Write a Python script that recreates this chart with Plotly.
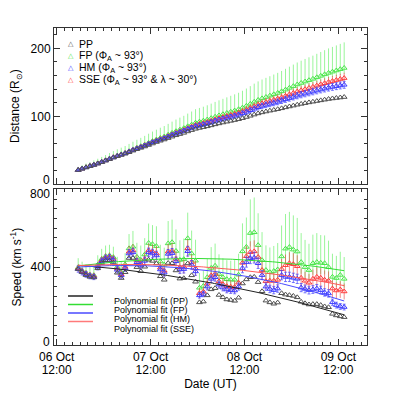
import numpy as np
import pandas as pd
import plotly.graph_objects as go
from plotly.subplots import make_subplots

# ──────────────────────────────────────────────────────────────
# Data
# ──────────────────────────────────────────────────────────────
T_START = "2010-10-06 17:30"     # first J-map point, hourly cadence
N_POINTS = 69
times = pd.date_range(T_START, periods=N_POINTS, freq="h")

X_RANGE = ["2010-10-06 11:19", "2010-10-09 19:20"]
X_TICK0 = "2010-10-06 12:00"

# distance (R_sun)
pp_dist = [21.0, 22.9, 24.8, 26.7, 28.5, 30.5, 32.6, 34.8, 37.0, 39.2,
           41.3, 43.2, 45.0, 47.2, 49.5, 51.6, 53.6, 55.6, 57.8, 60.0,
           62.2, 64.1, 65.9, 68.0, 70.1, 72.1, 73.9, 75.7, 77.8, 79.7,
           81.6, 82.9, 84.1, 85.3, 86.7, 88.2, 89.6, 90.9, 92.1, 93.3,
           94.5, 95.8, 97.3, 99.0, 100.8, 102.6, 104.3, 105.8, 107.1, 108.3,
           109.4, 110.5, 111.8, 113.2, 114.5, 115.8, 117.1, 118.3, 119.4, 120.5,
           121.5, 122.5, 123.5, 124.5, 125.5, 126.3, 127.0, 127.7, 128.4]
fp_dist = [21.0, 23.0, 25.0, 26.9, 28.8, 30.8, 33.0, 35.3, 37.7, 40.0,
           42.2, 44.2, 46.2, 48.7, 51.3, 53.7, 56.0, 58.4, 61.0, 63.6,
           65.9, 68.2, 70.3, 72.9, 75.6, 78.1, 80.4, 82.6, 85.3, 87.8,
           90.6, 92.1, 93.6, 95.3, 97.3, 99.4, 101.3, 103.1, 104.9, 106.7,
           108.5, 110.4, 112.8, 115.5, 118.4, 121.4, 124.1, 126.4, 128.4, 130.4,
           132.4, 134.4, 136.7, 139.3, 141.9, 144.4, 146.9, 149.1, 151.2, 153.2,
           155.2, 157.4, 159.6, 161.8, 163.9, 165.7, 167.5, 169.4, 171.2]
hm_dist = [21.0, 23.0, 24.9, 26.8, 28.6, 30.6, 32.8, 35.1, 37.4, 39.6,
           41.7, 43.6, 45.6, 48.0, 50.5, 52.7, 54.8, 57.0, 59.5, 61.9,
           63.9, 65.9, 67.8, 70.2, 72.7, 74.9, 76.9, 78.9, 81.4, 83.5,
           85.5, 86.8, 88.2, 89.7, 91.5, 93.3, 94.9, 96.4, 97.9, 99.3,
           100.8, 102.3, 104.4, 106.6, 108.9, 111.2, 113.4, 115.3, 116.8, 118.3,
           119.8, 121.3, 123.2, 125.0, 126.8, 128.6, 130.4, 131.9, 133.4, 134.9,
           136.4, 137.9, 139.4, 140.8, 142.2, 143.3, 144.4, 145.4, 146.4]
sse_dist = [21.0, 23.0, 25.0, 26.9, 28.7, 30.7, 32.9, 35.2, 37.5, 39.8,
            41.9, 43.9, 45.9, 48.3, 50.8, 53.1, 55.3, 57.5, 60.0, 62.4,
            64.6, 66.6, 68.6, 71.0, 73.5, 75.8, 77.9, 80.0, 82.5, 84.8,
            87.3, 88.6, 90.0, 91.6, 93.4, 95.3, 97.0, 98.6, 100.2, 101.9,
            103.5, 105.2, 107.4, 109.8, 112.3, 114.8, 117.2, 119.2, 121.0, 122.7,
            124.3, 126.0, 128.0, 130.1, 132.3, 134.4, 136.5, 138.3, 140.0, 141.7,
            143.4, 145.2, 147.0, 148.7, 150.4, 151.9, 153.4, 154.9, 156.3]

# distance uncertainties (% of distance)
FP_DIST_ERR_UP, FP_DIST_ERR_DN = 22, 5
SSE_DIST_ERR = 5
HM_DIST_ERR = 3.5

# speed (km/s)
pp_speed = [390, 375, 359, 350, 347, 394, 421, 435, 434, 423,
            371, 344, 374, 447, 447, 400, 379, 402, 438, 432,
            419, 353, 335, 421, 420, 383, 341, 343, 419, 358,
            325, 219, 223, 255, 286, 292, 257, 245, 234, 231,
            227, 243, 316, 337, 348, 350, 323, 276, 228, 219,
            212, 218, 266, 259, 256, 252, 245, 222, 214, 208,
            210, 210, 205, 198, 194, 160, 152, 147, 143]
fp_speed = [398, 382, 370, 361, 358, 412, 441, 456, 460, 451,
            401, 374, 414, 496, 505, 453, 437, 465, 524, 518,
            508, 429, 413, 522, 528, 483, 437, 441, 548, 470,
            433, 294, 303, 348, 396, 407, 364, 348, 338, 336,
            335, 361, 481, 504, 575, 579, 513, 436, 385, 374,
            380, 388, 455, 495, 503, 490, 480, 426, 400, 385,
            420, 426, 422, 420, 400, 350, 344, 360, 340]
hm_speed = [390, 375, 363, 354, 350, 402, 430, 444, 447, 436,
            386, 358, 394, 470, 476, 425, 408, 432, 476, 470,
            460, 388, 372, 468, 472, 430, 388, 390, 482, 412,
            378, 255, 262, 300, 340, 348, 310, 295, 285, 282,
            280, 300, 395, 426, 446, 449, 420, 359, 300, 288,
            282, 290, 359, 350, 350, 345, 340, 295, 288, 282,
            285, 290, 282, 270, 265, 220, 205, 198, 195]
sse_speed = [394, 379, 367, 358, 354, 406, 435, 449, 453, 442,
             392, 364, 401, 479, 486, 434, 417, 441, 486, 480,
             470, 397, 381, 480, 484, 442, 399, 402, 497, 426,
             393, 266, 274, 315, 357, 366, 327, 312, 302, 299,
             298, 320, 422, 456, 477, 481, 452, 385, 328, 330,
             330, 335, 390, 410, 420, 415, 405, 345, 330, 320,
             340, 350, 345, 335, 330, 290, 280, 285, 275]

# speed uncertainties (km/s)
fp_speed_err_up = [48, 46, 44, 43, 43, 49, 53, 55, 55, 54,
                   52, 52, 58, 74, 81, 72, 74, 84, 100, 98,
                   102, 86, 87, 115, 116, 111, 101, 106, 132, 118,
                   108, 76, 79, 94, 107, 114, 102, 97, 98, 97,
                   101, 108, 144, 151, 173, 179, 164, 144, 127, 127,
                   129, 136, 159, 178, 181, 176, 173, 149, 140, 135,
                   147, 149, 143, 143, 136, 119, 114, 119, 112]
fp_speed_err_dn = [19, 18, 18, 17, 17, 20, 21, 22, 22, 22,
                   21, 21, 23, 30, 32, 29, 30, 34, 40, 39,
                   41, 34, 35, 46, 46, 44, 40, 42, 53, 47,
                   43, 30, 32, 38, 43, 46, 41, 39, 39, 39,
                   40, 43, 58, 60, 69, 72, 66, 58, 51, 51,
                   52, 54, 64, 71, 72, 70, 69, 60, 56, 54,
                   59, 60, 57, 57, 54, 48, 46, 48, 45]
sse_speed_err = [20, 19, 18, 18, 18, 20, 22, 22, 23, 22,
                 24, 22, 24, 31, 32, 29, 29, 32, 36, 36,
                 38, 32, 31, 40, 41, 38, 35, 36, 46, 40,
                 39, 27, 27, 32, 37, 38, 35, 34, 33, 33,
                 33, 36, 48, 53, 56, 57, 55, 48, 42, 43,
                 43, 44, 52, 55, 57, 57, 56, 48, 46, 45,
                 48, 49, 49, 48, 48, 43, 42, 43, 41]
hm_speed_err = [16, 15, 15, 14, 14, 16, 17, 18, 18, 17,
                16, 15, 16, 20, 21, 19, 18, 20, 22, 22,
                22, 19, 18, 23, 24, 22, 20, 20, 25, 22,
                20, 14, 14, 17, 19, 20, 18, 17, 17, 17,
                17, 18, 24, 26, 28, 28, 27, 23, 19, 19,
                19, 19, 24, 24, 24, 24, 24, 21, 20, 20,
                20, 21, 20, 19, 19, 16, 15, 15, 15]

# ──────────────────────────────────────────────────────────────
# Styling
# ──────────────────────────────────────────────────────────────
FONT = "Liberation Sans, Arial, sans-serif"
C_PP = "#505050"
C_FP = "#4ce64c"
C_HM = "#3c3cff"
C_SSE = "#ff3c3c"
E_FP = "rgba(100,240,100,0.65)"
E_HM = "rgba(70,70,255,0.7)"
E_SSE = "rgba(235,60,60,0.6)"

# plot box in page pixels; the page body adds an 8 px margin
OFF = 8
L, R, T, B = 54, 367, 28, 345


def px(x):
    return (x - L) / (R - L)


def py(y):
    return (B - y) / (B - T)


def poly_fit(y, deg=2):
    hrs = (times - times[0]) / pd.Timedelta(hours=1)
    coef = np.polyfit(hrs, y, deg)
    fine = np.linspace(0, hrs[-1], 120)
    return times[0] + pd.to_timedelta(fine, unit="h"), np.polyval(coef, fine)


fig = make_subplots(rows=2, cols=1, shared_xaxes=True)

# ── distance panel ──
dist_series = [
    ("FP", fp_dist, C_FP, dict(type="percent", symmetric=False,
                               value=FP_DIST_ERR_UP, valueminus=FP_DIST_ERR_DN,
                               color=E_FP, thickness=1, width=0)),
    ("SSE", sse_dist, C_SSE, dict(type="percent", value=SSE_DIST_ERR,
                                  color=E_SSE, thickness=1, width=0)),
    ("HM", hm_dist, C_HM, dict(type="percent", value=HM_DIST_ERR,
                               color=E_HM, thickness=1, width=1.5)),
    ("PP", pp_dist, C_PP, None),
]
for name, d, col, err in dist_series:
    fig.add_trace(go.Scatter(
        x=times, y=d, mode="markers", name=name,
        marker=dict(symbol="triangle-up-open", size=5, color=col,
                    line=dict(width=1, color=col)),
        error_y=err, showlegend=False,
    ), row=1, col=1)

# ── speed panel ──
speed_series = [
    ("FP", fp_speed, C_FP, dict(type="data", symmetric=False, array=fp_speed_err_up,
                                arrayminus=fp_speed_err_dn, color=E_FP,
                                thickness=1, width=0)),
    ("SSE", sse_speed, C_SSE, dict(type="data", array=sse_speed_err, color=E_SSE,
                                   thickness=1, width=0)),
    ("HM", hm_speed, C_HM, dict(type="data", array=hm_speed_err, color=E_HM,
                                thickness=1, width=1.5)),
    ("PP", pp_speed, C_PP, None),
]
for name, v, col, err in speed_series:
    fig.add_trace(go.Scatter(
        x=times, y=v, mode="markers", name=name,
        marker=dict(symbol="triangle-up-open", size=5, color=col,
                    line=dict(width=1, color=col)),
        error_y=err, showlegend=False,
    ), row=2, col=1)

FIT_COLORS = ["#222222", "#33dd33", "#4a4aff", "#ff5a5a"]
for v, col in zip([pp_speed, fp_speed, hm_speed, sse_speed], FIT_COLORS):
    fx, fy = poly_fit(v)
    fig.add_trace(go.Scatter(x=fx, y=fy, mode="lines", showlegend=False,
                             line=dict(color=col, width=1)), row=2, col=1)

# overlay axis carrying the second line (HH:MM) of the date labels
fig.add_trace(go.Scatter(x=[times[0]], y=[None], xaxis="x3", yaxis="y2",
                         showlegend=False, hoverinfo="skip"))

# ──────────────────────────────────────────────────────────────
# Axes
# ──────────────────────────────────────────────────────────────
TICKFONT = dict(family=FONT, size=12, color="black")
AX = dict(showline=True, linecolor="#333", linewidth=1, mirror="ticks",
          ticks="inside", tickcolor="#333", ticklen=6, tickwidth=1,
          showgrid=False, zeroline=False, tickfont=TICKFONT)
XAX = dict(AX, type="date", range=X_RANGE, tick0=X_TICK0, dtick=86400000,
           minor=dict(ticks="inside", ticklen=3, dtick=7200000, tickcolor="#333",
                      showgrid=False))

fig.update_layout(
    xaxis=dict(XAX, domain=[0, 1], showticklabels=False),
    xaxis2=dict(XAX, domain=[0, 1], tickformat="%d %b", ticklabelstandoff=1,
                title=dict(text="Date (UT)", font=dict(family=FONT, size=12),
                           standoff=16)),
    xaxis3=dict(type="date", range=X_RANGE, tick0=X_TICK0, dtick=86400000,
                overlaying="x2", anchor="y2", side="bottom", tickformat="%H:%M",
                showline=False, ticks="", showgrid=False, zeroline=False,
                ticklabelstandoff=16, tickfont=TICKFONT),
    yaxis=dict(AX, domain=[py(184.3), 1], range=[0, 230],
               tickmode="array", tickvals=[0, 100, 200], ticktext=["", "100", "200"],
               minor=dict(ticks="inside", ticklen=3, tickmode="linear", tick0=0,
                          dtick=20, tickcolor="#333"),
               title=dict(text="Distance (R<sub>⊙</sub>)",
                          font=dict(family=FONT, size=12), standoff=8)),
    yaxis2=dict(AX, domain=[0, py(189.3)], range=[0, 800],
                tickmode="array", tickvals=[0, 400, 800], ticktext=["", "400", ""],
                minor=dict(ticks="inside", ticklen=3, tickmode="linear", tick0=0,
                           dtick=50, tickcolor="#333"),
                title=dict(text="Speed (km s<sup>-1</sup>)",
                           font=dict(family=FONT, size=12), standoff=8)),
    width=400 - OFF, height=400 - OFF,
    margin=dict(l=L - OFF, r=400 - R, t=T - OFF, b=400 - B, autoexpand=False),
    plot_bgcolor="white", paper_bgcolor="white",
    font=dict(family=FONT, color="black"),
    showlegend=False,
)

# edge labels sit just inside the panel, as in the IDL original
for text, y in [("0", 180.3), ("800", 194.3), ("0", 342)]:
    fig.add_annotation(x=0, y=py(y), xref="paper", yref="paper", text=text,
                       showarrow=False, xanchor="right", yanchor="middle",
                       xshift=-3, borderpad=0, font=TICKFONT)

# ── legends drawn as annotations (IDL-style tight spacing) ──
top_legend = [
    ("PP", C_PP, 43.5),
    ("FP (Φ<sub>A</sub> ~ 93°)", C_FP, 55.8),
    ("HM (Φ<sub>A</sub> ~ 93°)", C_HM, 68.1),
    ("SSE (Φ<sub>A</sub> ~ 93° &amp; λ ~ 30°)", C_SSE, 80.4),
]
for text, col, y in top_legend:
    fig.add_annotation(x=px(71), y=py(y), xref="paper", yref="paper",
                       text="△", showarrow=False, xanchor="center", yanchor="middle",
                       borderpad=0, font=dict(family="DejaVu Sans", size=7, color=col))
    fig.add_annotation(x=px(78), y=py(y), xref="paper", yref="paper",
                       text=text, showarrow=False, xanchor="left", yanchor="middle",
                       borderpad=0, font=dict(family=FONT, size=10.5, color="black"))

fit_legend = [
    ("Polynomial fit (PP)", FIT_COLORS[0], 296, 300.5),
    ("Polynomial fit (FP)", FIT_COLORS[1], 304.5, 309.5),
    ("Polynomial fit (HM)", FIT_COLORS[2], 313, 319),
    ("Polynomial fit (SSE)", "#ff7a7a", 321.5, 328.5),
]
for text, col, yl, yt in fit_legend:
    fig.add_shape(type="line", xref="paper", yref="paper",
                  x0=px(68), x1=px(93), y0=py(yl), y1=py(yl),
                  line=dict(color=col, width=1.5))
    fig.add_annotation(x=px(113), y=py(yt), xref="paper", yref="paper",
                       text=text, showarrow=False, xanchor="left", yanchor="middle",
                       borderpad=0, font=dict(family=FONT, size=9, color="black"))

fig.write_html("out.html")
